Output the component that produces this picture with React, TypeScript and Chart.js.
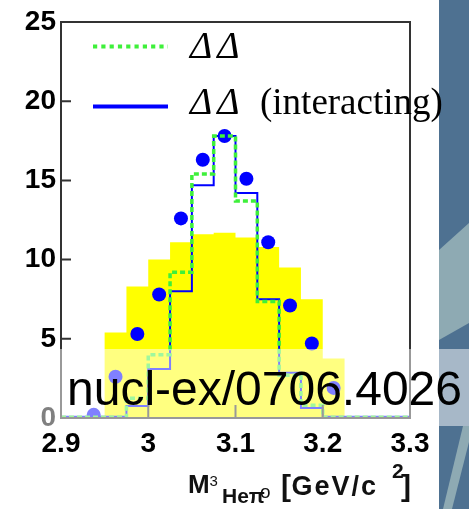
import React, { useEffect, useRef } from 'react';
import { Chart, registerables } from 'chart.js';

Chart.register(...registerables);

// ---- data ----
const binEdges = [2.9, 2.925, 2.95, 2.975, 3.0, 3.025, 3.05, 3.075, 3.1, 3.125, 3.15, 3.175, 3.2, 3.225, 3.25, 3.275, 3.3];
const yellowBand = [0, 0, 5.4, 8.3, 10.0, 11.1, 11.6, 11.7, 11.4, 10.8, 9.5, 7.5, 3.75, 0, 0, 0];
const deltaDeltaFree = [0.05, 0.05, 0.05, 1.25, 4.0, 9.2, 15.4, 17.8, 13.7, 7.35, 2.7, 0.8, 0.05, 0.05, 0.05, 0.05];
const deltaDeltaInteracting = [0.08, 0.08, 0.08, 0.75, 3.1, 8.0, 14.7, 17.8, 14.2, 7.5, 2.85, 0.63, 0.08, 0.08, 0.08, 0.08];
const dataMass = [2.9375, 2.9625, 2.9875, 3.0125, 3.0375, 3.0625, 3.0875, 3.1125, 3.1375, 3.1625, 3.1875, 3.2125];
const dataCounts = [0.2, 2.6, 5.3, 7.8, 12.6, 16.3, 17.8, 15.1, 11.1, 7.1, 4.7, 1.9];
const xTickValues = [2.9, 3.0, 3.1, 3.2, 3.3];
const xTickLabels = ['2.9', '3', '3.1', '3.2', '3.3'];
const yTickValues = [0, 5, 10, 15, 20, 25];
const yTickLabels = ['0', '5', '10', '15', '20', '25'];
const legendLabels = ['ΔΔ', 'ΔΔ (interacting)'];
const watermark = 'nucl-ex/0706.4026';

const SANS = '"Liberation Sans", Arial, Helvetica, sans-serif';
const SERIF = '"Liberation Serif", "Times New Roman", serif';
const GREEN = '#3ef03a';
const BLUE = '#0000ff';

// point at each bin's right edge carries that bin's value (stepped: 'after')
function histPoints(values: number[]) {
  const pts = [{ x: binEdges[0], y: values[0] }];
  values.forEach((v, i) => pts.push({ x: binEdges[i + 1], y: v }));
  return pts;
}

const bgPlugin = {
  id: 'bgPlugin',
  beforeDraw(chart: any) {
    const ctx = chart.ctx;
    const W = chart.width;
    const H = chart.height;
    ctx.save();
    ctx.fillStyle = '#ffffff';
    ctx.fillRect(0, 0, W, H);
    ctx.fillStyle = '#4e7191';
    ctx.fillRect(439, 0, W - 439, H);
    ctx.fillStyle = '#8eaab3';
    ctx.beginPath();
    ctx.moveTo(439, 250);
    ctx.lineTo(469, 223);
    ctx.lineTo(469, 323);
    ctx.lineTo(439, 340);
    ctx.closePath();
    ctx.fill();
    ctx.beginPath();
    ctx.moveTo(463, 426);
    ctx.lineTo(469, 426);
    ctx.lineTo(469, 442);
    ctx.lineTo(452, 509);
    ctx.lineTo(443, 509);
    ctx.closePath();
    ctx.fill();
    ctx.restore();
  },
};

const framePlugin = {
  id: 'framePlugin',
  afterDatasetsDraw(chart: any) {
    const ctx = chart.ctx;
    const { left, right, top, bottom } = chart.chartArea;
    const xs = chart.scales.x;
    const ys = chart.scales.y;
    ctx.save();
    ctx.strokeStyle = '#333333';
    ctx.lineWidth = 2;
    ctx.strokeRect(left, top, right - left, bottom - top);
    ctx.beginPath();
    yTickValues.slice(1, -1).forEach((v) => {
      const y = ys.getPixelForValue(v);
      ctx.moveTo(left, y);
      ctx.lineTo(left + 10, y);
    });
    xTickValues.slice(1, -1).forEach((v) => {
      const x = xs.getPixelForValue(v);
      ctx.moveTo(x, bottom);
      ctx.lineTo(x, bottom - 13);
    });
    ctx.stroke();
    ctx.restore();
  },
};

const legendPlugin = {
  id: 'legendPlugin',
  afterDraw(chart: any) {
    const ctx = chart.ctx;
    ctx.save();
    ctx.lineCap = 'butt';
    ctx.strokeStyle = GREEN;
    ctx.lineWidth = 4;
    ctx.setLineDash([4.2, 4.1]);
    ctx.beginPath();
    ctx.moveTo(93, 46.5);
    ctx.lineTo(168, 46.5);
    ctx.stroke();
    ctx.setLineDash([]);
    ctx.strokeStyle = BLUE;
    ctx.lineWidth = 4;
    ctx.beginPath();
    ctx.moveTo(93, 106.5);
    ctx.lineTo(168, 106.5);
    ctx.stroke();
    ctx.fillStyle = '#000000';
    ctx.textAlign = 'left';
    ctx.textBaseline = 'alphabetic';
    const baselines = [58, 114];
    legendLabels.forEach((lab, i) => {
      const sp = lab.indexOf(' ');
      const ital = sp >= 0 ? lab.slice(0, sp) : lab;
      const rest = sp >= 0 ? lab.slice(sp + 1) : '';
      ctx.font = `italic 38px ${SERIF}`;
      (ctx as any).letterSpacing = '5px';
      ctx.fillText(ital, 190, baselines[i]);
      (ctx as any).letterSpacing = '0px';
      if (rest) {
        ctx.font = `37px ${SERIF}`;
        ctx.fillText(rest, 260, baselines[i]);
      }
    });
    ctx.restore();
  },
};

const titlePlugin = {
  id: 'titlePlugin',
  afterDraw(chart: any) {
    const ctx = chart.ctx;
    ctx.save();
    ctx.fillStyle = '#111111';
    ctx.textAlign = 'left';
    ctx.textBaseline = 'alphabetic';
    ctx.font = `bold 26px ${SANS}`;
    ctx.fillText('M', 188, 493);
    ctx.font = `15px ${SANS}`;
    ctx.fillText('3', 209.5, 486);
    ctx.font = `bold 21px ${SANS}`;
    ctx.fillText('Heπ', 222, 503);
    ctx.font = `19px ${SANS}`;
    ctx.fillText('o', 260, 498);
    ctx.font = `bold 30px ${SANS}`;
    ctx.fillText('[', 281, 496);
    ctx.font = `bold 27px ${SANS}`;
    (ctx as any).letterSpacing = '2px';
    ctx.fillText('GeV/c', 291.5, 495);
    (ctx as any).letterSpacing = '0px';
    ctx.font = `bold 21px ${SANS}`;
    ctx.fillText('2', 392, 478);
    ctx.font = `bold 30px ${SANS}`;
    ctx.fillText(']', 401, 496);
    ctx.restore();
  },
};

const bandPlugin = {
  id: 'bandPlugin',
  afterDraw(chart: any) {
    const ctx = chart.ctx;
    ctx.save();
    ctx.fillStyle = 'rgba(255,255,255,0.5)';
    ctx.fillRect(0, 349, chart.width, 77);
    ctx.fillStyle = '#000000';
    ctx.font = `48px ${SANS}`;
    ctx.textAlign = 'left';
    ctx.textBaseline = 'alphabetic';
    ctx.fillText(watermark, 67, 405);
    ctx.restore();
  },
};

export default function App() {
  const ref = useRef<HTMLCanvasElement | null>(null);

  useEffect(() => {
    if (!ref.current) return;
    const chart = new Chart(ref.current, {
      type: 'line',
      data: {
        datasets: [
          {
            label: 'ΔΔ',
            data: histPoints(deltaDeltaFree),
            stepped: 'after',
            borderColor: GREEN,
            borderWidth: 3.5,
            borderDash: [5, 3],
            pointRadius: 0,
            fill: false,
            order: 1,
          },
          {
            label: 'ΔΔ (interacting)',
            data: histPoints(deltaDeltaInteracting),
            stepped: 'after',
            borderColor: BLUE,
            borderWidth: 2,
            pointRadius: 0,
            fill: false,
            order: 2,
          },
          {
            label: 'data',
            data: dataMass.map((m, i) => ({ x: m, y: dataCounts[i] })),
            showLine: false,
            pointRadius: 7,
            pointBackgroundColor: BLUE,
            pointBorderColor: BLUE,
            pointBorderWidth: 0,
            order: 3,
          },
          {
            label: 'band',
            data: histPoints(yellowBand),
            stepped: 'after',
            borderWidth: 0,
            borderColor: 'rgba(0,0,0,0)',
            backgroundColor: '#ffff00',
            fill: 'origin',
            pointRadius: 0,
            order: 4,
          },
        ],
      } as any,
      options: {
        animation: false,
        responsive: false,
        devicePixelRatio: 1,
        layout: { padding: { top: 22, right: 59, left: 0, bottom: 0 } },
        plugins: { legend: { display: false }, tooltip: { enabled: false } },
        scales: {
          x: {
            type: 'linear',
            min: 2.9,
            max: 3.3,
            grid: { display: false, drawTicks: false },
            border: { display: false },
            afterBuildTicks: (scale: any) => {
              scale.ticks = xTickValues.map((v) => ({ value: v }));
            },
            afterFit: (scale: any) => {
              scale.height = 91;
            },
            ticks: {
              autoSkip: false,
              maxRotation: 0,
              padding: 9,
              color: '#000000',
              font: { family: SANS, size: 28, weight: 'bold' },
              callback: (_v: any, i: number) => xTickLabels[i],
            },
          },
          y: {
            type: 'linear',
            min: 0,
            max: 25,
            grid: { display: false, drawTicks: false },
            border: { display: false },
            afterBuildTicks: (scale: any) => {
              scale.ticks = yTickValues.map((v) => ({ value: v }));
            },
            afterFit: (scale: any) => {
              scale.width = 61;
            },
            ticks: {
              autoSkip: false,
              padding: 5,
              color: '#000000',
              font: { family: SANS, size: 28, weight: 'bold' },
              callback: (_v: any, i: number) => yTickLabels[i],
            },
          },
        },
      } as any,
      plugins: [bgPlugin, framePlugin, legendPlugin, titlePlugin, bandPlugin],
    });
    return () => chart.destroy();
  }, []);

  return (
    <div style={{ position: 'absolute', left: 0, top: 0, width: 469, height: 509 }}>
      <canvas ref={ref} width={469} height={509} style={{ display: 'block' }} />
    </div>
  );
}
